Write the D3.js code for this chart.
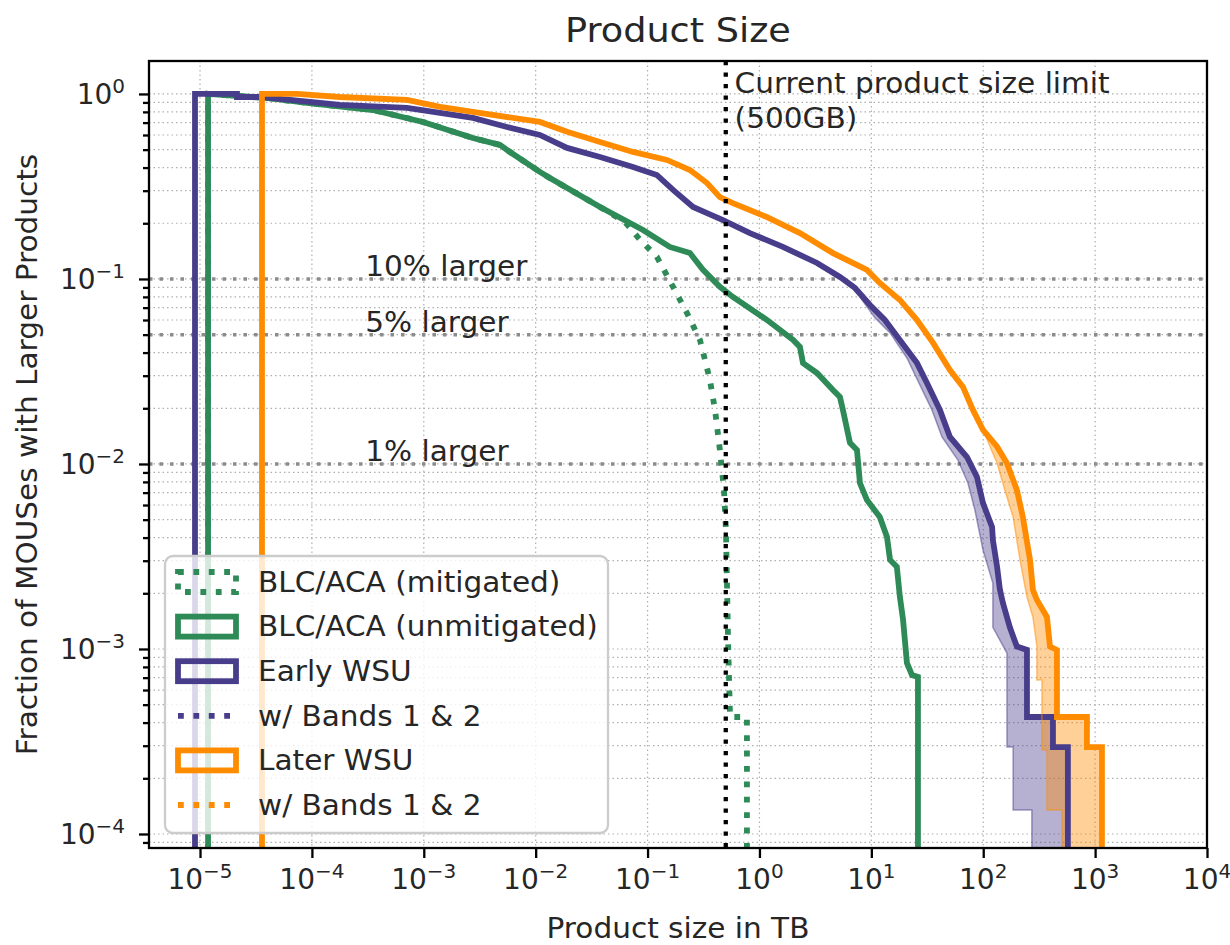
<!DOCTYPE html>
<html>
<head>
<meta charset="utf-8">
<script src="https://cdn.jsdelivr.net/npm/d3@7"></script>
<style>
  body { margin: 0; background: #fff; }
  text { font-family: "DejaVu Sans", sans-serif; fill: #262626; }
</style>
</head>
<body>
<svg id="chart" width="1230" height="945"></svg>
<script>
// survival curves: [product size in TB, fraction with larger products]
// BOTTOM is a value below the axis, used where a curve drops to zero
const BOTTOM = 1e-6;

const blcUnmitigated = [
  [1.18e-5, BOTTOM], [1.18e-5, 1.0], [3.97e-5, 0.951], [9.04e-5, 0.894], [3.52e-4, 0.819],
  [9.84e-4, 0.706], [2.75e-3, 0.578], [4.80e-3, 0.530], [5.54e-3, 0.498], [0.0109, 0.379],
  [0.0134, 0.351], [0.0376, 0.245], [0.0910, 0.184], [0.158, 0.149], [0.239, 0.138],
  [0.313, 0.112], [0.443, 0.0906], [0.579, 0.0799], [1.17, 0.0600], [2.00, 0.0468],
  [2.30, 0.0429], [2.45, 0.0351], [3.27, 0.0310], [4.54, 0.0251], [5.24, 0.0230],
  [5.57, 0.0196], [6.44, 0.0130], [7.44, 0.0119], [7.91, 0.00789], [9.14, 0.00638],
  [11.9, 0.00517], [13.8, 0.00403], [14.7, 0.00303], [16.9, 0.00278], [18.0, 0.00191],
  [19.2, 0.00144], [20.8, 0.000840], [23.1, 0.000723], [26.1, 0.000706], [26.1, BOTTOM]
];

// mitigated curve follows the unmitigated one up to its first point
const blcMitigatedTail = [
  [0.0376, 0.245], [0.0628, 0.203], [0.0855, 0.163], [0.121, 0.132], [0.169, 0.0906],
  [0.225, 0.0655], [0.294, 0.0468], [0.326, 0.0365], [0.361, 0.0284], [0.401, 0.0196],
  [0.443, 0.0119], [0.482, 0.00723], [0.502, 0.00440], [0.524, 0.00112], [0.546, 0.000429],
  [0.773, 0.000429], [0.773, BOTTOM]
];

const earlyWSU = [
  [9.02e-6, BOTTOM], [9.02e-6, 1.0], [2.14e-5, 1.0], [2.14e-5, 0.963], [3.44e-5, 0.963],
  [1.78e-4, 0.872], [7.08e-4, 0.840], [2.75e-3, 0.742], [5.54e-3, 0.663], [0.0109, 0.600],
  [0.0191, 0.511], [0.0376, 0.456], [0.0741, 0.403], [0.121, 0.365], [0.169, 0.303],
  [0.255, 0.245], [0.340, 0.227], [0.472, 0.208], [0.822, 0.177], [1.62, 0.149],
  [3.27, 0.122], [5.24, 0.1025], [7.14, 0.0894], [9.72, 0.0723], [13.2, 0.0600],
  [16.9, 0.0492], [25.6, 0.0351], [31.4, 0.0274], [41.0, 0.0196], [50.4, 0.0140],
  [71.6, 0.0109], [87.9, 0.00851], [99.5, 0.00615], [120, 0.00456], [122, 0.00388],
  [133, 0.00278], [141, 0.00209], [150, 0.00177], [173, 0.00131], [200, 0.00103],
  [246, 0.000988], [246, 0.000429], [420, 0.000429], [420, 0.000295], [571, 0.000295],
  [571, BOTTOM]
];

// "w/ Bands 1 & 2" variants, only where they leave the main curve
const earlyWSUBandsTail = [
  [7.14, 0.0894], [8.24, 0.0770], [10.8, 0.0616], [14.7, 0.0511], [20.8, 0.0374],
  [27.2, 0.0267], [34.8, 0.0196], [42.8, 0.0140], [59.4, 0.0105], [73.0, 0.00789],
  [84.3, 0.00564], [99.5, 0.00343], [122, 0.00227], [122, 0.00131], [163, 0.000951],
  [163, 0.000295], [185, 0.000295], [185, 0.000135], [272, 0.000135], [272, BOTTOM]
];

const laterWSU = [
  [3.58e-5, BOTTOM], [3.58e-5, 1.0], [7.36e-5, 1.0], [1.78e-4, 0.963], [7.08e-4, 0.928],
  [1.40e-3, 0.851], [2.75e-3, 0.799], [0.0109, 0.706], [0.0191, 0.624], [0.0376, 0.550],
  [0.0741, 0.486], [0.149, 0.440], [0.239, 0.388], [0.340, 0.330], [0.443, 0.277],
  [0.579, 0.257], [1.17, 0.216], [2.30, 0.177], [4.54, 0.138], [9.14, 0.112],
  [11.9, 0.0951], [18.0, 0.0770], [25.6, 0.0600], [35.6, 0.0451], [50.4, 0.0322],
  [65.9, 0.0261], [80.9, 0.0196], [99.5, 0.0153], [133, 0.0124], [163, 0.0101],
  [200, 0.00723], [226, 0.00517], [262, 0.00303], [278, 0.00209], [302, 0.00184],
  [371, 0.00149], [395, 0.00103], [456, 0.000988], [456, 0.000429], [845, 0.000429],
  [845, 0.000295], [1151, 0.000295], [1151, BOTTOM]
];

const laterWSUBandsTail = [
  [99.5, 0.0153], [115, 0.0124], [133, 0.0101], [156, 0.00723], [185, 0.00517],
  [213, 0.00303], [246, 0.00191], [278, 0.00149], [302, 0.00103], [302, 0.000680],
  [335, 0.000680], [335, 0.000284], [371, 0.000284], [371, 0.000135], [505, 0.000135],
  [505, BOTTOM]
];

const xTicks = [1e-5, 1e-4, 1e-3, 1e-2, 1e-1, 1e0, 1e1, 1e2, 1e3, 1e4];
const yTicks = [1e-4, 1e-3, 1e-2, 1e-1, 1e0];

const refLevels = [0.1, 0.05, 0.01];
const refLabels = ["10% larger", "5% larger", "1% larger"];
const refLabelX = 3e-4;

const sizeLimit = 0.5; // TB
const limitLabel = ["Current product size limit", "(500GB)"];
const limitLabelX = 0.6;

const legendLabels = [
  "BLC/ACA (mitigated)", "BLC/ACA (unmitigated)", "Early WSU",
  "w/ Bands 1 & 2", "Later WSU", "w/ Bands 1 & 2"
];

const GREEN = "#2e8b57", PURPLE = "#483d8b", ORANGE = "#ff8c00";

const X0 = 149, X1 = 1207, Y0 = 61, Y1 = 848;
const STRETCH = 1.055; // reference glyphs are a little wider than DejaVu at the same height

const svg = d3.select("#chart");

const x = d3.scaleLog().domain([3.5e-6, 1e4]).range([X0, X1]);
const y = d3.scaleLog().domain([8.4e-5, 1.507]).range([Y1, Y0]);

function stretch(sel, k) {
  sel.each(function () {
    const len = this.getComputedTextLength();
    d3.select(this).attr("textLength", len * k).attr("lengthAdjust", "spacingAndGlyphs");
  });
}

svg.append("defs").append("clipPath").attr("id", "plotclip")
  .append("rect").attr("x", X0).attr("y", Y0).attr("width", X1 - X0).attr("height", Y1 - Y0);

// grid: major decades on both axes, minor on y only
const grid = svg.append("g");
const yMinor = y.ticks().filter(t => !yTicks.includes(t));

grid.selectAll("line.gx").data(xTicks).enter().append("line")
  .attr("x1", d => x(d)).attr("x2", d => x(d)).attr("y1", Y0).attr("y2", Y1);
grid.selectAll("line.gy").data(yTicks.concat(yMinor)).enter().append("line")
  .attr("x1", X0).attr("x2", X1).attr("y1", d => y(d)).attr("y2", d => y(d));
grid.selectAll("line")
  .attr("stroke", "#b0b0b0").attr("stroke-width", 1.2).attr("stroke-dasharray", "1.5 3");

const plot = svg.append("g").attr("clip-path", "url(#plotclip)");

// 10% / 5% / 1% reference lines
plot.selectAll("line.ref").data(refLevels).enter().append("line")
  .attr("x1", X0).attr("x2", X1).attr("y1", d => y(d)).attr("y2", d => y(d))
  .attr("stroke", "#8c8c8c").attr("stroke-width", 3.5).attr("stroke-dasharray", "3.5 7");

const line = d3.line().x(d => x(d[0])).y(d => y(d[1]));

function bandPolygon(main, tail) {
  const start = tail[0];
  const upper = main.filter(d => d[0] >= start[0] && d[1] <= start[1]);
  return line(upper.concat(tail.slice().reverse())) + "Z";
}

plot.append("path").attr("d", bandPolygon(earlyWSU, earlyWSUBandsTail))
  .attr("fill", PURPLE).attr("fill-opacity", 0.4);
plot.append("path").attr("d", bandPolygon(laterWSU, laterWSUBandsTail))
  .attr("fill", ORANGE).attr("fill-opacity", 0.4);

const blcMitigated = blcUnmitigated.filter(d => d[0] < blcMitigatedTail[0][0]).concat(blcMitigatedTail);

const curves = [
  { data: blcMitigated, color: GREEN, dash: "5.8 9.6" },
  { data: blcUnmitigated, color: GREEN, dash: null },
  { data: earlyWSU.filter(d => d[0] < earlyWSUBandsTail[0][0]).concat(earlyWSUBandsTail), color: PURPLE, dash: null, thin: true },
  { data: earlyWSU, color: PURPLE, dash: null },
  { data: laterWSU.filter(d => d[0] < laterWSUBandsTail[0][0]).concat(laterWSUBandsTail), color: ORANGE, dash: null, thin: true },
  { data: laterWSU, color: ORANGE, dash: null }
];

plot.selectAll("path.curve").data(curves).enter().append("path")
  .attr("class", "curve")
  .attr("d", d => line(d.data))
  .attr("fill", "none")
  .attr("stroke", d => d.color)
  .attr("stroke-width", d => d.thin ? 1.5 : 5.8)
  .attr("stroke-opacity", d => d.thin ? 0.5 : 1)
  .attr("stroke-linejoin", "miter")
  .attr("stroke-dasharray", d => d.dash);

// current size limit
plot.append("line")
  .attr("x1", x(sizeLimit)).attr("x2", x(sizeLimit)).attr("y1", Y0).attr("y2", Y1)
  .attr("stroke", "#000").attr("stroke-width", 4.3).attr("stroke-dasharray", "4.3 7.2");

svg.append("text").attr("x", x(limitLabelX)).attr("y", y(1.0) - 1)
  .style("font-size", "28px")
  .selectAll("tspan").data(limitLabel).enter().append("tspan")
  .attr("x", x(limitLabelX)).attr("dy", (d, i) => i ? "1.25em" : 0)
  .text(d => d)
  .call(stretch, STRETCH);

svg.selectAll("text.ref").data(refLevels).enter().append("text")
  .attr("x", x(refLabelX)).attr("y", d => y(d) - 3)
  .style("font-size", "28px")
  .text((d, i) => refLabels[i])
  .call(stretch, STRETCH);

// frame and ticks
svg.append("rect").attr("x", X0).attr("y", Y0).attr("width", X1 - X0).attr("height", Y1 - Y0)
  .attr("fill", "none").attr("stroke", "#000").attr("stroke-width", 2.3);

const xAxis = svg.append("g").attr("transform", `translate(0,${Y1})`)
  .call(d3.axisBottom(x).tickValues(xTicks).tickSize(10).tickFormat(""));
const yAxis = svg.append("g").attr("transform", `translate(${X0},0)`)
  .call(d3.axisLeft(y).tickValues(yTicks).tickSize(10).tickFormat(""));
const yAxisMinor = svg.append("g").attr("transform", `translate(${X0},0)`)
  .call(d3.axisLeft(y).tickValues(yMinor).tickSize(6).tickFormat(""));
[xAxis, yAxis, yAxisMinor].forEach(a => {
  a.select(".domain").remove();
  a.selectAll(".tick line").attr("stroke", "#000").attr("stroke-width", 2.3);
});

function powerLabel(sel, t) {
  const e = Math.round(Math.log10(t));
  sel.append("tspan").text("10");
  sel.append("tspan").attr("dy", "-0.55em").style("font-size", "20px")
    .text(e < 0 ? "\u2212" + (-e) : String(e));
}

xTicks.forEach(t => {
  const tx = svg.append("text").attr("x", x(t)).attr("y", Y1 + 41)
    .attr("text-anchor", "middle").style("font-size", "28px");
  powerLabel(tx, t);
});
yTicks.forEach(t => {
  const ty = svg.append("text").attr("x", X0 - 24).attr("y", y(t) + 10)
    .attr("text-anchor", "end").style("font-size", "28px");
  powerLabel(ty, t);
});

svg.append("text").attr("x", (X0 + X1) / 2).attr("y", 42)
  .attr("text-anchor", "middle").style("font-size", "34px").text("Product Size")
  .call(stretch, 1.077);
svg.append("text").attr("x", (X0 + X1) / 2).attr("y", 938)
  .attr("text-anchor", "middle").style("font-size", "28px").text("Product size in TB")
  .call(stretch, STRETCH);
svg.append("text").attr("transform", `translate(27,${(Y0 + Y1) / 2}) rotate(-90)`)
  .attr("dy", "0.35em").attr("text-anchor", "middle").style("font-size", "28px")
  .text("Fraction of MOUSes with Larger Products")
  .call(stretch, STRETCH);

// legend
const legend = svg.append("g");
legend.append("rect").attr("x", 165).attr("y", 556).attr("width", 443).attr("height", 277)
  .attr("rx", 8).attr("fill", "#fff").attr("fill-opacity", 0.8)
  .attr("stroke", "#cccccc").attr("stroke-width", 2.3);

const handleKinds = [
  { color: GREEN, kind: "patch", dash: "5.8 9.6" },
  { color: GREEN, kind: "patch", dash: null },
  { color: PURPLE, kind: "patch", dash: null },
  { color: PURPLE, kind: "line", dash: "5.8 9.6" },
  { color: ORANGE, kind: "patch", dash: null },
  { color: ORANGE, kind: "line", dash: "5.8 9.6" }
];

legendLabels.forEach((label, i) => {
  const ry = 582 + i * 44.6;
  const h = handleKinds[i];
  if (h.kind === "patch") {
    legend.append("rect").attr("x", 178).attr("y", ry - 10).attr("width", 58).attr("height", 20)
      .attr("fill", "none").attr("stroke", h.color).attr("stroke-width", 5.8)
      .attr("stroke-dasharray", h.dash);
  } else {
    legend.append("line").attr("x1", 178).attr("x2", 236).attr("y1", ry).attr("y2", ry)
      .attr("stroke", h.color).attr("stroke-width", 5.8).attr("stroke-dasharray", h.dash);
  }
  legend.append("text").attr("x", 258).attr("y", ry).attr("dy", "0.35em")
    .style("font-size", "28px").text(label)
    .call(stretch, STRETCH);
});
</script>
</body>
</html>
